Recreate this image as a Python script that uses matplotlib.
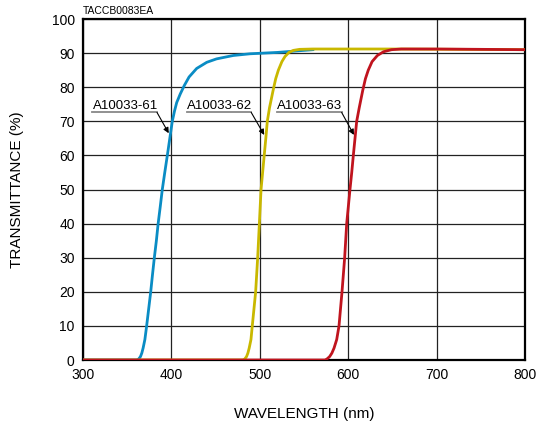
import matplotlib
matplotlib.use("Agg")
import matplotlib.pyplot as plt

plt.rcParams['font.family'] = ['Liberation Sans', 'DejaVu Sans']

# A10033-61 (blue)
wl_61 = [300, 356, 361, 363, 365, 366.5, 368, 370, 372, 374.3, 376.6, 378.6, 380.7, 383, 385, 387.4, 389.7, 392.5,
         395.4, 398.2, 401, 403.5, 406, 410, 414.6, 420, 428.6, 440, 451, 470, 489, 520, 545, 560]
tr_61 = [0, 0, 0, 0.3, 1, 2, 3.5, 6, 10, 15, 20, 25, 30, 35, 40, 45, 50, 55,
         60, 65, 70, 73, 75.5, 78, 80.5, 83, 85.5, 87.3, 88.3, 89.3, 89.8, 90.2, 90.7, 91.0]
# A10033-62 (yellow)
wl_62 = [300, 476, 481, 483, 485, 486.5, 488, 490, 491.5, 495.3, 497.6, 499.5, 501.4, 503.2, 505, 506.8, 508.5,
         511, 515, 518, 521, 525, 528.5, 533, 538, 545, 560, 650, 800]
tr_62 = [0, 0, 0, 0.3, 1, 2, 3.5, 6, 10, 20, 30, 40, 50, 55, 60, 65, 70,
         74, 79, 82.5, 85, 87.5, 89, 90.2, 90.8, 91.1, 91.2, 91.2, 91.0]
# A10033-63 (red)
wl_63 = [300, 568, 573.7, 576, 579, 581.5, 584, 587, 589.6, 593, 596, 598.3, 602, 604, 605.8, 607.7, 609.6,
         612.5, 616.4, 619.5, 622.7, 627, 633, 640, 649, 660, 700, 800]
tr_63 = [0, 0, 0, 0.3, 1, 2, 3.5, 6, 10, 20, 30, 40, 50, 55, 60, 65, 70,
         74, 79, 82.5, 85, 87.5, 89.3, 90.4, 91.0, 91.2, 91.2, 91.0]

labels = ["A10033-61", "A10033-62", "A10033-63"]
x_ticks = [300, 400, 500, 600, 700, 800]
y_ticks = [0, 10, 20, 30, 40, 50, 60, 70, 80, 90, 100]

fig = plt.figure(figsize=(5.37, 4.24), dpi=100)
ax = fig.add_axes([83/537, 64/424, 442/537, 341/424])

ax.plot(wl_61, tr_61, color='#0a8cc4', lw=2.0, zorder=3, solid_joinstyle='round')
ax.plot(wl_62, tr_62, color='#c9b800', lw=2.0, zorder=4, solid_joinstyle='round')
ax.plot(wl_63, tr_63, color='#c0141e', lw=2.0, zorder=5, solid_joinstyle='round')

ax.set_xlim(300, 800)
ax.set_ylim(0, 100)
ax.set_xticks(x_ticks)
ax.set_yticks(y_ticks)
ax.grid(True, color='#222222', lw=0.9)
ax.set_axisbelow(True)
ax.tick_params(length=0, labelsize=10)
ax.tick_params(axis='x', pad=6)
ax.tick_params(axis='y', pad=6)
for s in ax.spines.values():
    s.set_linewidth(1.6)
    s.set_color('black')

ax.set_xlabel('WAVELENGTH (nm)', fontsize=11, labelpad=18)
ax.set_ylabel('TRANSMITTANCE (%)', fontsize=11, labelpad=20)
fig.text(83/537, 1 - 11/424, 'TACCB0083EA', fontsize=7.5, va='center', ha='left')

# labels with underline and arrow
label_x0 = [310, 417.3, 519]
label_x1 = [383.7, 490.3, 592.6]
label_y = 72.6
arrow_end = [(397, 66.5), (505, 66), (606.5, 66)]
for lab, x0, x1, (ex, ey) in zip(labels, label_x0, label_x1, arrow_end):
    ax.text(x0 + 0.8, label_y + 1.0, lab, fontsize=9.5, ha='left', va='baseline', zorder=6)
    ax.plot([x0, x1], [label_y, label_y], color='#888888', lw=1.3, zorder=6)
    ax.annotate('', xy=(ex, ey), xytext=(x1, label_y),
                arrowprops=dict(arrowstyle='-|>', color='black', lw=0.8,
                                mutation_scale=8, shrinkA=0, shrinkB=0), zorder=6)

fig.savefig('out.png', dpi=100)
